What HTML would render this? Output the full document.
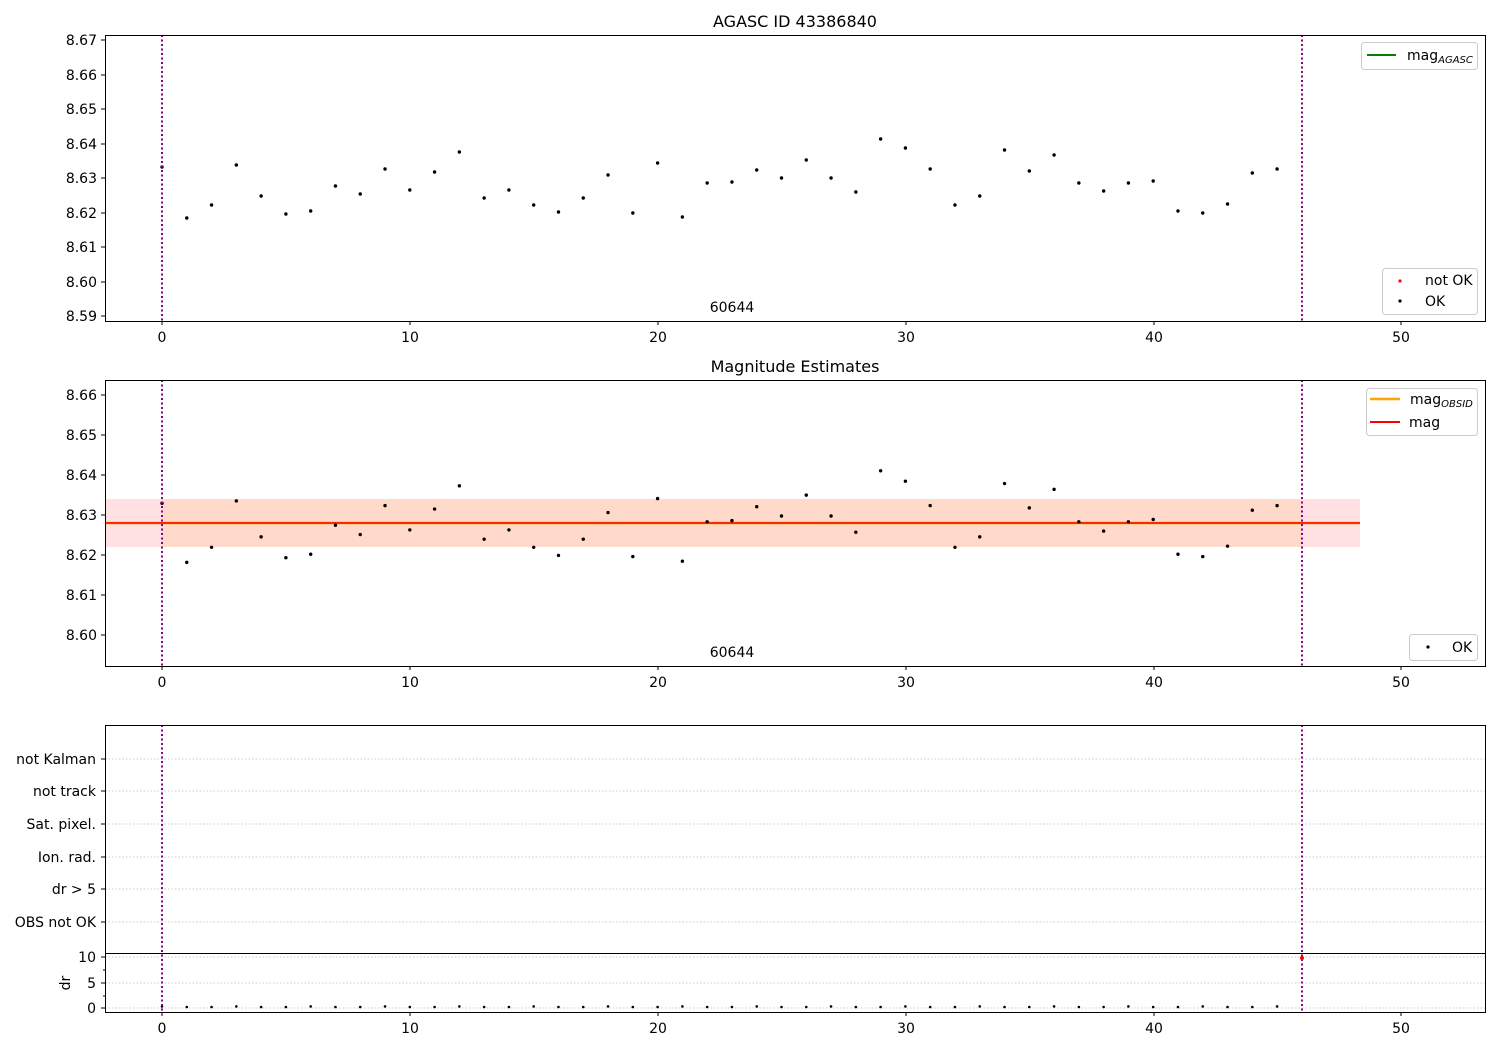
<!DOCTYPE html>
<html><head><meta charset="utf-8"><style>
body{margin:0;background:#fff}
svg{font-family:"DejaVu Sans","Liberation Sans",sans-serif;font-size:14px}
</style></head><body>
<svg id="s" width="1500" height="1050" xmlns="http://www.w3.org/2000/svg">
<rect width="1500" height="1050" fill="#fff"/>
<text x="795" y="27" text-anchor="middle" font-size="16">AGASC ID 43386840</text>
<text x="795" y="372" text-anchor="middle" font-size="16">Magnitude Estimates</text>
<rect x="105" y="499" width="1255" height="48" fill="#ffe0e3"/>
<rect x="162" y="499" width="1140" height="48" fill="#ffd9c9"/>
<line x1="105" y1="523" x2="1360" y2="523" stroke="#ffa500" stroke-width="2.5"/>
<line x1="105" y1="523" x2="1360" y2="523" stroke="red" stroke-width="1.6"/>
<g stroke="#bbb" stroke-dasharray="1.5,2" stroke-width="0.8">
<line x1="105" y1="759" x2="1485" y2="759"/><line x1="105" y1="791" x2="1485" y2="791"/>
<line x1="105" y1="824" x2="1485" y2="824"/><line x1="105" y1="857" x2="1485" y2="857"/>
<line x1="105" y1="889" x2="1485" y2="889"/><line x1="105" y1="922" x2="1485" y2="922"/>
<line x1="105" y1="957" x2="1485" y2="957"/><line x1="105" y1="983" x2="1485" y2="983"/>
<line x1="105" y1="1008" x2="1485" y2="1008"/>
</g>
<g id="dots"></g>
<g stroke="#8b008b" stroke-dasharray="2,2.5" stroke-width="2">
<line x1="162" y1="35" x2="162" y2="321"/><line x1="1302" y1="35" x2="1302" y2="321"/>
<line x1="162" y1="380" x2="162" y2="666"/><line x1="1302" y1="380" x2="1302" y2="666"/>
<line x1="162" y1="725" x2="162" y2="1012"/><line x1="1302" y1="725" x2="1302" y2="1012"/>
</g>
<circle cx="1302" cy="958" r="2" fill="red"/>
<g fill="none" stroke="#000" stroke-width="1">
<rect x="105.5" y="35.5" width="1380" height="286"/>
<rect x="105.5" y="380.5" width="1380" height="286"/>
<rect x="105.5" y="725.5" width="1380" height="287"/>
<line x1="105" y1="953.5" x2="1485" y2="953.5"/>
</g>
<g id="ticks" stroke="#000"></g>
<g text-anchor="end">
<text x="97" y="45">8.67</text><text x="97" y="80">8.66</text><text x="97" y="114">8.65</text><text x="97" y="149">8.64</text><text x="97" y="183">8.63</text><text x="97" y="218">8.62</text><text x="97" y="252">8.61</text><text x="97" y="287">8.60</text><text x="97" y="321">8.59</text>
<text x="97" y="400">8.66</text><text x="97" y="440">8.65</text><text x="97" y="480">8.64</text><text x="97" y="520">8.63</text><text x="97" y="560">8.62</text><text x="97" y="600">8.61</text><text x="97" y="640">8.60</text>
<text x="96" y="764">not Kalman</text><text x="96" y="796">not track</text><text x="96" y="829">Sat. pixel.</text><text x="96" y="862">Ion. rad.</text><text x="96" y="894">dr &gt; 5</text><text x="96" y="927">OBS not OK</text>
<text x="96" y="962">10</text><text x="96" y="988">5</text><text x="96" y="1013">0</text>
</g>
<text x="70" y="983" text-anchor="middle" transform="rotate(-90 70 983)">dr</text>
<g text-anchor="middle">
<text x="162" y="342">0</text><text x="410" y="342">10</text><text x="658" y="342">20</text><text x="906" y="342">30</text><text x="1154" y="342">40</text><text x="1401" y="342">50</text>
<text x="162" y="687">0</text><text x="410" y="687">10</text><text x="658" y="687">20</text><text x="906" y="687">30</text><text x="1154" y="687">40</text><text x="1401" y="687">50</text>
<text x="162" y="1033">0</text><text x="410" y="1033">10</text><text x="658" y="1033">20</text><text x="906" y="1033">30</text><text x="1154" y="1033">40</text><text x="1401" y="1033">50</text>
<text x="732" y="312">60644</text><text x="732" y="657">60644</text>
</g>
<g fill="#fff" stroke="#ccc"><rect x="1361.5" y="42.5" width="116" height="27" rx="3"/><rect x="1382.5" y="268.5" width="95" height="46" rx="3"/><rect x="1366.5" y="388.5" width="111" height="47" rx="3"/><rect x="1409.5" y="634.5" width="68" height="26" rx="3"/></g>
<line x1="1367" y1="55" x2="1396" y2="55" stroke="green" stroke-width="2"/>
<text x="1407" y="60">mag<tspan font-size="10" font-style="italic" dy="3">AGASC</tspan></text>
<circle cx="1400" cy="281" r="1.6" fill="red"/><text x="1425" y="285">not OK</text>
<circle cx="1400" cy="301" r="1.6" fill="#000"/><text x="1425" y="306">OK</text>
<line x1="1370" y1="399" x2="1400" y2="399" stroke="#ffa500" stroke-width="2.5"/>
<text x="1410" y="404">mag<tspan font-size="10" font-style="italic" dy="3">OBSID</tspan></text>
<line x1="1370" y1="422" x2="1400" y2="422" stroke="red" stroke-width="2"/><text x="1409" y="427">mag</text>
<circle cx="1428" cy="647" r="1.6" fill="#000"/><text x="1452" y="652">OK</text>
</svg>
<script>
var Y=[167,218,205,165,196,214,211,186,194,169,190,172,152,198,190,205,212,198,175,213,163,217,183,182,170,178,160,178,192,139,148,169,205,196,150,171,155,183,191,183,181,211,213,204,173,169];
var g=document.getElementById('dots'),h='';
for(var i=0;i<Y.length;i++){var x=162+24.78*i;
h+='<circle cx="'+x+'" cy="'+Y[i]+'" r="1.7"/>';
h+='<circle cx="'+x+'" cy="'+(356+1.1594*(Y[i]-40))+'" r="1.7"/>';
h+='<circle cx="'+x+'" cy="'+(1007-(i%3==0?0.6:0))+'" r="1.3"/>';}
g.innerHTML=h;
var t='',xs=[162,410,658,906,1154,1401];
[321,666,1012].forEach(function(b){xs.forEach(function(x){t+='<line x1="'+x+'" y1="'+b+'" x2="'+x+'" y2="'+(b+4)+'"/>';});});
[40,75,109,144,178,213,247,282,316,395,435,475,515,555,595,635,759,791,824,857,889,922,957,983,1008].forEach(function(y){t+='<line x1="101" y1="'+y+'" x2="105" y2="'+y+'"/>';});
[970,996].forEach(function(y){t+='<line x1="103" y1="'+y+'" x2="105" y2="'+y+'"/>';});
document.getElementById('ticks').innerHTML=t;
</script>
</body></html>
